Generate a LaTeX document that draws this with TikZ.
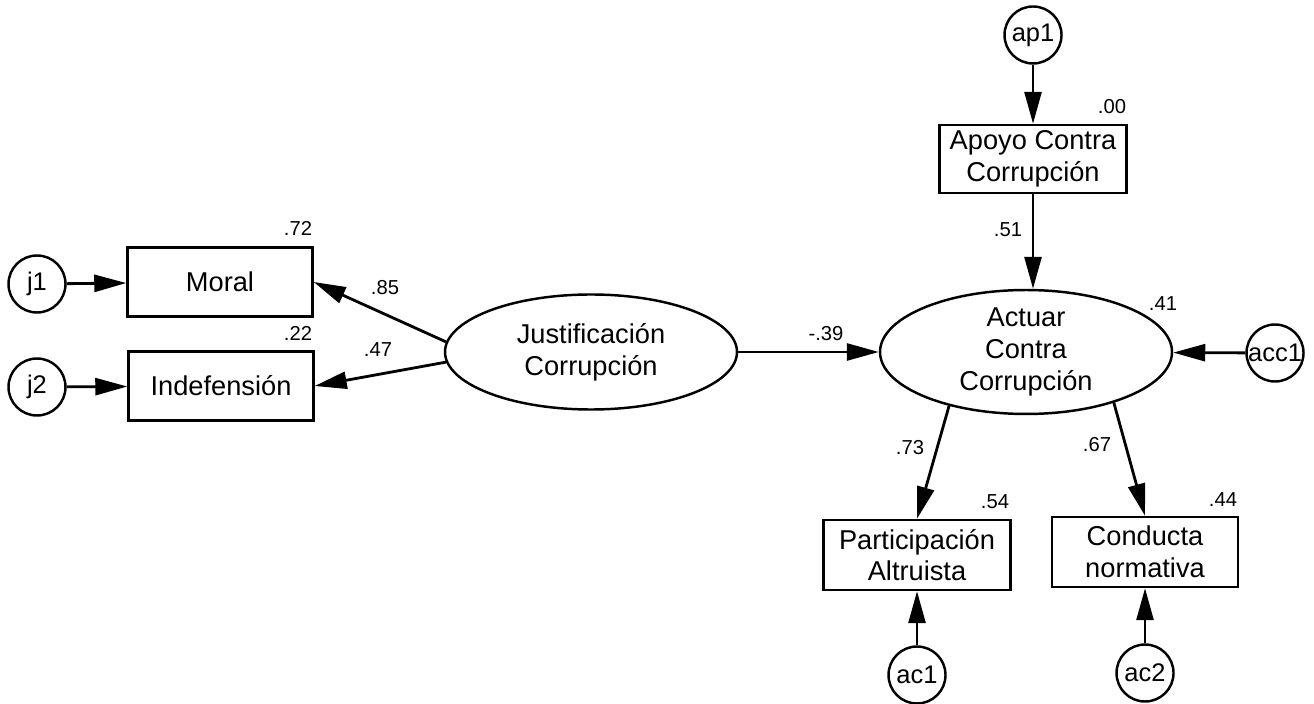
\documentclass[tikz,border=0pt]{standalone}
\usepackage{fontspec}
\setmainfont{Liberation Sans}
\usepackage{tikz}
\usetikzlibrary{arrows.meta,positioning,shapes.geometric}

\begin{document}
\begin{tikzpicture}[
  observed/.style={draw,line width=1.4pt,align=center,inner sep=0pt,minimum width=3.72cm,minimum height=1.38cm,font=\fontsize{15.5}{18}\selectfont},
  latent/.style={draw,ellipse,line width=1.4pt,align=center,inner sep=0pt,minimum width=5.84cm,minimum height=2.3cm,font=\fontsize{15.5}{18}\selectfont},
  err/.style={draw,circle,line width=1.4pt,inner sep=0pt,minimum size=1.14cm,font=\fontsize{14.5}{17}\selectfont},
  est/.style={inner sep=0pt,font=\fontsize{11.5}{13}\selectfont},
  rel/.style={draw,line width=1.6pt,-{Triangle[length=0.64cm,width=0.34cm]}}
]
\useasboundingbox (0,0) rectangle (26.28,14.06);
\node[latent] (just) at (11.82,7.02) {Justificación\\Corrupción};
\node[latent,minimum height=2.36cm] (act) at (20.52,7.02) {Actuar\\Contra\\Corrupción};
\node[observed,minimum width=3.70cm] (moral) at (4.40,8.42) {Moral};
\node[observed,minimum width=3.70cm] (indef) at (4.42,6.34) {Indefensión};
\node[observed,minimum width=3.74cm,minimum height=1.36cm] (apoyo) at (20.66,10.88) {Apoyo Contra\\Corrupción};
\node[observed,minimum width=3.74cm,minimum height=1.40cm] (part) at (18.34,2.96) {Participación\\Altruista};
\node[observed,minimum height=1.40cm] (cond) at (22.90,3.02) {Conducta\\normativa};
\node[err] (j1) at (0.74,8.38) {j1};
\node[err] (j2) at (0.74,6.32) {j2};
\node[err] (ap1) at (20.66,13.36) {ap1};
\node[err] (acc1) at (25.50,7.00) {acc1};
\node[err] (ac1) at (18.34,0.56) {ac1};
\node[err] (ac2) at (22.90,0.60) {ac2};
% squared multiple correlations
\node[est] (r2moral) at (5.96,9.50) {.72};
\node[est] (r2indef) at (5.96,7.40) {.22};
\node[est] (r2act) at (23.26,7.98) {.41};
\node[est] (r2apoyo) at (22.24,11.92) {.00};
\node[est] (r2part) at (19.90,4.02) {.54};
\node[est] (r2cond) at (24.46,4.06) {.44};
% paths
\draw[rel] (just.176) -- (moral.east) node[est] at (7.70,8.30) {.85};
\draw[rel] (just.184) -- (indef.east) node[est] at (7.56,7.06) {.47};
\draw[rel] (just.east) -- (act.west) node[est] at (16.52,7.38) {-.39};
\draw[rel] (apoyo.south) -- (apoyo.south |- act.north) node[est] at (20.16,9.46) {.51};
\draw[rel] (act.215) -- (part.north) node[est] at (18.20,5.10) {.73};
\draw[rel] (act.330) -- (cond.north) node[est] at (21.94,5.16) {.67};
\draw[rel] (j1) -- (moral);
\draw[rel] (j2) -- (indef);
\draw[rel] (ap1) -- (apoyo);
\draw[rel] (acc1) -- (act);
\draw[rel] (ac1) -- (part);
\draw[rel] (ac2) -- (cond);
\end{tikzpicture}
\end{document}
